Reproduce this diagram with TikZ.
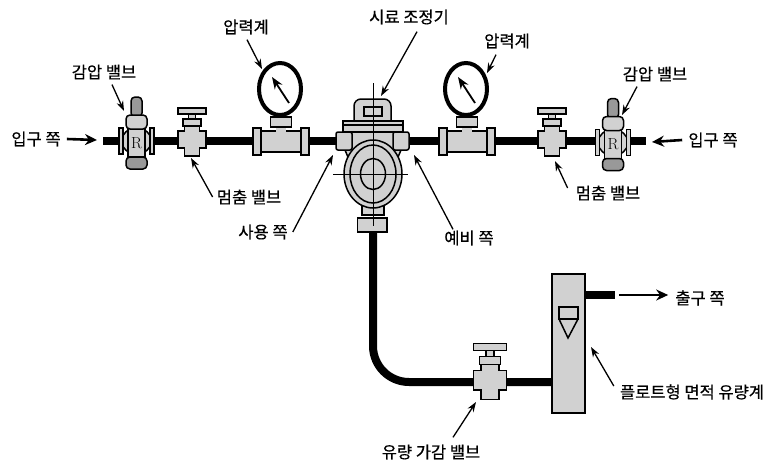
\documentclass[tikz,border=0pt]{standalone}
\usepackage{fontspec}
\newfontfamily\kofont[FakeBold=0.5]{Noto Sans CJK KR}
\usetikzlibrary{arrows.meta}
\definecolor{partgray}{gray}{0.82}
\definecolor{darkgray}{gray}{0.6}
\tikzset{
  part/.style = {draw, line width=1.5pt, fill=partgray},
  darkpart/.style = {draw, line width=1.5pt, fill=darkgray, rounded corners=4pt},
  softpart/.style = {draw, line width=1.5pt, fill=partgray, rounded corners=4pt},
  pipe/.style = {line width=8pt},
  label/.style = {font=\kofont\fontsize{16.5}{16.5}\selectfont, inner sep=0pt},
  callout/.style = {line width=1.3pt, -{Stealth[length=10pt,width=7pt]}},
  flow/.style = {line width=2.6pt, -{Stealth[length=12pt,width=11pt]}},
  centerline/.style = {line width=0.4pt},
  pics/stopvalve/.style = {code = {
    \draw[part] (-14,-33) rectangle (14,-27) ;
    \draw[part] (-3.5,-27) rectangle (3.5,-21) ;
    \draw[part] (-9,-22) rectangle (9,-15) ;
    \draw[part] (-7.5,-15) -- (7.5,-15) -- (7.5,-10) -- (14,-10) -- (14,7) -- (7.5,7) -- (7.5,15)
      -- (-7.5,15) -- (-7.5,7) -- (-14,7) -- (-14,-10) -- (-7.5,-10) -- cycle ;
  }},
  pics/reducer/.style = {code = {
    \draw[part] (0,0) ellipse (15 and 13) ;
    \draw[part] (-17.5,-13) rectangle (-13.5,13) ;
    \draw[part] (13.5,-13) rectangle (17.5,13) ;
    \draw[part] (-8.5,-14) rectangle (8.5,16) ;
    \node (rmark) at (0,2) {\fontsize{16}{16}\selectfont R} ;
    \draw[darkpart] (-5.5,-44) rectangle (5.5,-24) ;
    \draw[softpart] (-10.5,-26) rectangle (10.5,-12) ;
    \draw[darkpart] (-10.5,16) rectangle (10.5,28) ;
  }},
  pics/gaugetee/.style = {code = {
    \draw[part] (-20,-10) rectangle (20,11) ;
    \draw[part] (-28,-13) rectangle (-20,14) ;
    \draw[part] (20,-13) rectangle (28,14) ;
    \fill[partgray] (-5,-15) rectangle (5,-8) ;
    \draw[part] (-10.5,-24) rectangle (10.5,-14) ;
    \draw[line width=4pt, fill=white] (-1,-52) ellipse (21 and 26) ;
    \draw[line width=1.8pt, -{Stealth[length=12pt,width=9pt]}] (8,-38) -- (-9,-64) ;
  }},
}
\begin{document}
\begin{tikzpicture}[x=1pt,y=-1pt]
\useasboundingbox (0,0) rectangle (767,463) ;

\coordinate (pipeL) at (103,141) ;
\coordinate (pipeR) at (646,141) ;
\coordinate (pipeT) at (373,232) ;
\coordinate (valveC) at (490,382) ;
\coordinate (pipeOut) at (615,295) ;

\node[part, minimum width=33pt, minimum height=139pt, inner sep=0pt] (meter) at (568.5,343.5) {} ;
\draw[pipe] (pipeL) -- (pipeR) ;
\draw[pipe, rounded corners=36pt] (pipeT) -- (pipeT |- valveC) -- (valveC -| meter.west) ;
\draw[pipe] (pipeOut -| meter.east) -- (pipeOut) ;

% float
\draw[part, fill=partgray] (559,307) rectangle (578,319) ;
\draw[line width=1.5pt] (559,319) -- (568,338) -- (578,319) ;

\pic at (136.5,141) {reducer} ;
\pic at (613,142.5) {reducer} ;
\pic at (192,141) {stopvalve} ;
\pic at (552,141) {stopvalve} ;
\pic[scale=1.17] at (490,382) {stopvalve} ;
\pic at (281,141) {gaugetee} ;
\pic at (467,141) {gaugetee} ;

% sample conditioner
\begin{scope}[shift = {(373,174)}]
\draw[part] (-11,30) rectangle (11,41) ;
\draw[part] (-15.5,44) rectangle (14,58) ;
\draw[part, rounded corners=7pt] (-19,-53) -- (-19,-75) -- (18,-75) -- (18,-53) ;
\draw[part] (-9,-67) rectangle (9,-58) ;
\draw[part] (-30,-53) rectangle (30,-42) ;
\draw[line width=1.5pt] (-30,-49) -- (30,-49) ;
\draw[part] (-28,-24) -- (-21,-42) -- (21,-42) -- (28,-24) -- (23,-12) -- (-23,-12) -- cycle ;
\draw[part, rounded corners=2pt] (-37,-42) rectangle (-21,-24) ;
\draw[part, rounded corners=2pt] (20,-42) rectangle (36,-24) ;
\draw[part] (0,0) ellipse (29 and 34) ;
\draw[line width=1.5pt] (0,0) ellipse (23 and 29) ;
\draw[line width=1.5pt] (0,0) ellipse (12.5 and 15.5) ;
\draw[centerline] (0,-91) -- (0,52) ;
\draw[centerline] (-40,0) -- (35,0) ;
\end{scope}

\node[label] (lblInL) at (36,139) {입구 쪽} ;
\node[label] (lblRegL) at (104,72) {감압 밸브} ;
\node[label] (lblGaugeL) at (246,27) {압력계} ;
\node[label] (lblCond) at (409,17) {시료 조정기} ;
\node[label] (lblGaugeR) at (507,41) {압력계} ;
\node[label] (lblRegR) at (655,74) {감압 밸브} ;
\node[label] (lblInR) at (713,140) {입구 쪽} ;
\node[label] (lblStopL) at (249,197) {멈춤 밸브} ;
\node[label] (lblStopR) at (608,193) {멈춤 밸브} ;
\node[label] (lblUse) at (263,232) {사용 쪽} ;
\node[label] (lblSpare) at (469,238) {예비 쪽} ;
\node[label] (lblOut) at (700,298) {출구 쪽} ;
\node[label] (lblFloat) at (692,392) {플로트형 면적 유량계} ;
\node[label] (lblTrim) at (431,452) {유량 가감 밸브} ;

\coordinate (tipInL) at (97,140) ;
\coordinate (tipInR) at (652,142) ;
\coordinate (tailOut) at (619,295) ;
\coordinate (tipRegL) at (124,111) ;
\coordinate (tipRegR) at (622,115) ;
\coordinate (tipGaugeL) at (262,69) ;
\coordinate (tipGaugeR) at (487,73) ;
\coordinate (tipCond) at (381,96) ;
\coordinate (tipStopL) at (191,158) ;
\coordinate (tipStopR) at (555,161) ;
\coordinate (tipUse) at (333,155) ;
\coordinate (tipSpare) at (414,155) ;
\coordinate (tipTrim) at (476,402) ;
\coordinate (tipFloat) at (591,347) ;

\draw[flow] ([xshift=6pt]lblInL.east) -- (tipInL) ;
\draw[flow] ([xshift=-6pt]lblInR.west) -- (tipInR) ;
\draw[flow] (tailOut) -- ([xshift=-7pt]lblOut.west |- tailOut) ;
\draw[callout] ([xshift=8pt,yshift=-5pt]lblRegL.south) -- (tipRegL) ;
\draw[callout] ([xshift=-18pt,yshift=-5pt]lblRegR.south) -- (tipRegR) ;
\draw[callout] ([xshift=1pt,yshift=-5pt]lblGaugeL.south) -- (tipGaugeL) ;
\draw[callout] ([xshift=-11pt,yshift=-6pt]lblGaugeR.south) -- (tipGaugeR) ;
\draw[callout] ([xshift=8pt,yshift=-7pt]lblCond.south) -- (tipCond) ;
\draw[callout] ([xshift=-4pt]lblStopL.west) -- (tipStopL) ;
\draw[callout] ([xshift=-8pt,yshift=5pt]lblStopR.west) -- (tipStopR) ;
\draw[callout] ([xshift=5pt]lblUse.east) -- (tipUse) ;
\draw[callout] ([xshift=-16pt,yshift=1pt]lblSpare.north) -- (tipSpare) ;
\draw[callout] ([xshift=22pt,yshift=7pt]lblTrim.north) -- (tipTrim) ;
\draw[callout] ([xshift=-6pt,yshift=6pt]lblFloat.west) -- (tipFloat) ;
\end{tikzpicture}
\end{document}
